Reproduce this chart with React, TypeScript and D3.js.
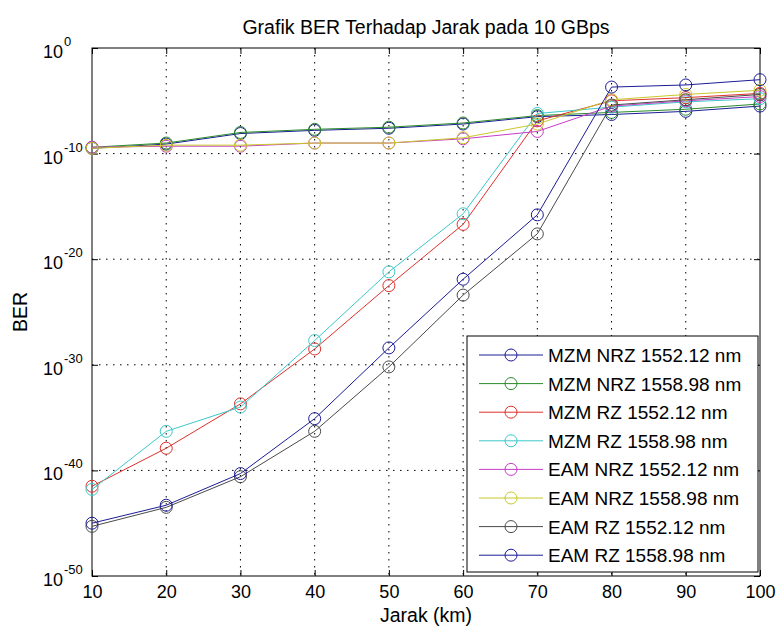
import React, { useEffect, useRef } from 'react';
import * as d3 from 'd3';

// jarak (km)
const jarak = [10, 20, 30, 40, 50, 60, 70, 80, 90, 100];

// BER values stored as log10(BER)
const mzmNrz1552 = [-9.5, -9.1, -8.1, -7.8, -7.6, -7.2, -6.5, -6.3, -6.0, -5.5];
const mzmNrz1558 = [-9.4, -9.0, -8.0, -7.7, -7.5, -7.1, -6.4, -6.1, -5.8, -5.3];
const mzmRz1552 = [-41.5, -37.9, -33.7, -28.5, -22.5, -16.7, -6.9, -5.0, -4.7, -4.3];
const mzmRz1558 = [-41.8, -36.3, -34.0, -27.7, -21.2, -15.7, -6.2, -5.6, -5.1, -4.8];
const eamNrz1552 = [-9.4, -9.3, -9.3, -9.0, -9.0, -8.6, -7.9, -5.5, -5.0, -4.6];
const eamNrz1558 = [-9.5, -9.2, -9.2, -9.0, -9.0, -8.5, -7.2, -4.9, -4.4, -4.0];
const eamRz1552 = [-45.3, -43.5, -40.6, -36.3, -30.2, -23.4, -17.6, -5.4, -4.9, -4.4];
const eamRz1558 = [-45.0, -43.3, -40.3, -35.1, -28.4, -21.9, -15.8, -3.7, -3.5, -3.0];

const seriesNames = [
  'MZM NRZ 1552.12 nm',
  'MZM NRZ 1558.98 nm',
  'MZM RZ 1552.12 nm',
  'MZM RZ 1558.98 nm',
  'EAM NRZ 1552.12 nm',
  'EAM NRZ 1558.98 nm',
  'EAM RZ 1552.12 nm',
  'EAM RZ 1558.98 nm',
];
const seriesValues = [mzmNrz1552, mzmNrz1558, mzmRz1552, mzmRz1558, eamNrz1552, eamNrz1558, eamRz1552, eamRz1558];
const seriesColors = ['#1c1c96', '#2a8a2a', '#e0302c', '#3cc8c8', '#c83cc8', '#c8c82a', '#4a4a4a', '#1c1c96'];

const xTicks = [10, 20, 30, 40, 50, 60, 70, 80, 90, 100];
const yExpTicks = [0, -10, -20, -30, -40, -50];

const FONT = '"Liberation Sans", Arial, Helvetica, sans-serif';

export default function App() {
  const ref = useRef<SVGSVGElement>(null);

  useEffect(() => {
    const W = 777;
    const H = 629;
    const margin = { top: 48, right: 17, bottom: 53, left: 92 };
    const width = W - margin.left - margin.right;
    const height = H - margin.top - margin.bottom;

    const root = d3.select(ref.current);
    root.selectAll('*').remove();
    root.append('rect').attr('width', W).attr('height', H).attr('fill', '#fff');

    const svg = root.append('g').attr('transform', `translate(${margin.left},${margin.top})`);

    const xScale = d3.scaleLinear().domain([10, 100]).range([0, width]);
    const yScale = d3.scaleLog().domain([1e-50, 1]).range([height, 0]);
    const yv = (e: number) => Math.pow(10, e);

    // dotted grid
    svg
      .append('g')
      .selectAll('line')
      .data(xTicks.slice(1, -1))
      .join('line')
      .attr('x1', d => xScale(d))
      .attr('x2', d => xScale(d))
      .attr('y1', 0)
      .attr('y2', height)
      .attr('stroke', '#000')
      .attr('stroke-width', 1)
      .attr('stroke-dasharray', '1.5,5.5');
    svg
      .append('g')
      .selectAll('line')
      .data(yExpTicks.slice(1, -1))
      .join('line')
      .attr('x1', 0)
      .attr('x2', width)
      .attr('y1', d => yScale(yv(d)))
      .attr('y2', d => yScale(yv(d)))
      .attr('stroke', '#000')
      .attr('stroke-width', 1)
      .attr('stroke-dasharray', '1.5,5.5');

    // ticks on all four sides
    const tickVals = yExpTicks.map(yv);
    const bottom = svg
      .append('g')
      .attr('transform', `translate(0,${height})`)
      .call(d3.axisBottom(xScale).tickValues(xTicks).tickSizeInner(-6).tickSizeOuter(0).tickPadding(9));
    bottom.selectAll('text').attr('font-size', 18).attr('font-family', FONT).attr('fill', '#000');
    svg.append('g').call(d3.axisTop(xScale).tickValues(xTicks).tickSizeInner(-6).tickSizeOuter(0).tickFormat(() => ''));
    svg.append('g').call(d3.axisLeft(yScale).tickValues(tickVals).tickSizeInner(-6).tickSizeOuter(0).tickFormat(() => ''));
    svg
      .append('g')
      .attr('transform', `translate(${width},0)`)
      .call(d3.axisRight(yScale).tickValues(tickVals).tickSizeInner(-6).tickSizeOuter(0).tickFormat(() => ''));
    svg.selectAll('.domain').remove();
    svg.selectAll('.tick line').attr('stroke', '#000');

    // y tick labels 10^n
    const yl = svg
      .append('g')
      .selectAll('text')
      .data(yExpTicks)
      .join('text')
      .attr('x', -49)
      .attr('y', d => yScale(yv(d)) + 10)
      .attr('font-family', FONT)
      .attr('font-size', 18)
      .attr('fill', '#000');
    yl.append('tspan').text('10');
    yl.append('tspan')
      .attr('dy', -12)
      .attr('dx', 1)
      .attr('font-size', 13)
      .text(d => String(d));

    // box
    svg
      .append('rect')
      .attr('width', width)
      .attr('height', height)
      .attr('fill', 'none')
      .attr('stroke', '#000')
      .attr('stroke-width', 1);

    // series
    const line = d3
      .line<number>()
      .x((_, i) => xScale(jarak[i]))
      .y(d => yScale(yv(d)));

    seriesValues.forEach((vals, k) => {
      const g = svg.append('g');
      g.append('path')
        .datum(vals)
        .attr('fill', 'none')
        .attr('stroke', seriesColors[k])
        .attr('stroke-width', 1)
        .attr('d', line);
      g.selectAll('circle')
        .data(vals)
        .join('circle')
        .attr('cx', (_, i) => xScale(jarak[i]))
        .attr('cy', d => yScale(yv(d)))
        .attr('r', 6)
        .attr('fill', 'none')
        .attr('stroke', seriesColors[k])
        .attr('stroke-width', 1);
    });

    // title and axis labels
    root
      .append('text')
      .attr('x', margin.left + width / 2)
      .attr('y', 34)
      .attr('text-anchor', 'middle')
      .attr('font-family', FONT)
      .attr('font-size', 19.5)
      .text('Grafik BER Terhadap Jarak pada 10 GBps');
    root
      .append('text')
      .attr('x', margin.left + width / 2)
      .attr('y', 622)
      .attr('text-anchor', 'middle')
      .attr('font-family', FONT)
      .attr('font-size', 19.5)
      .text('Jarak (km)');
    root
      .append('text')
      .attr('transform', `translate(27,${margin.top + height / 2}) rotate(-90)`)
      .attr('text-anchor', 'middle')
      .attr('font-family', FONT)
      .attr('font-size', 19.5)
      .text('BER');

    // legend
    const lg = root.append('g').attr('transform', 'translate(467,336)');
    lg.append('rect')
      .attr('width', 291)
      .attr('height', 236)
      .attr('fill', '#fff')
      .attr('stroke', '#000')
      .attr('stroke-width', 1);
    const item = lg
      .selectAll('g.item')
      .data(seriesNames)
      .join('g')
      .attr('class', 'item')
      .attr('transform', (_, i) => `translate(0,${19 + i * 28.6})`);
    item
      .append('line')
      .attr('x1', 12)
      .attr('x2', 76)
      .attr('stroke', (_, i) => seriesColors[i])
      .attr('stroke-width', 1);
    item
      .append('circle')
      .attr('cx', 44)
      .attr('r', 6)
      .attr('fill', 'none')
      .attr('stroke', (_, i) => seriesColors[i]);
    item
      .append('text')
      .attr('x', 81)
      .attr('y', 7)
      .attr('font-family', FONT)
      .attr('font-size', 19)
      .attr('fill', '#000')
      .text(d => d);
  }, []);

  return (
    <svg
      ref={ref}
      width={777}
      height={629}
      style={{ position: 'absolute', left: 0, top: 0 }}
    />
  );
}
